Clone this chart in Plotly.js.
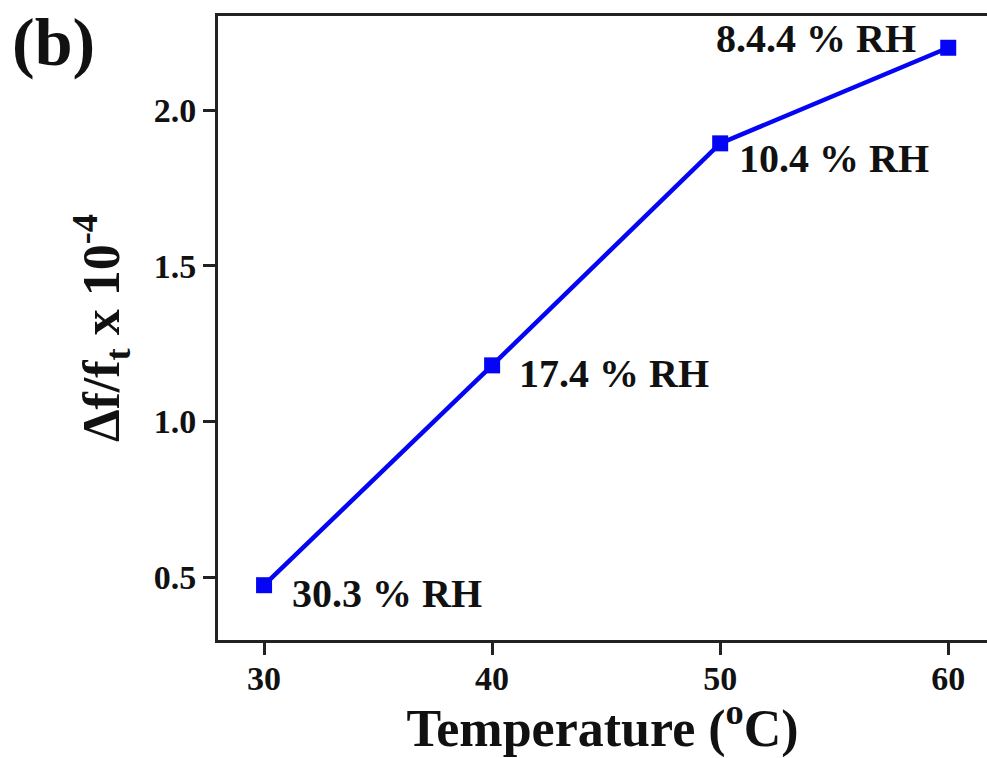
<!DOCTYPE html>
<html>
<head>
<meta charset="utf-8">
<script src="https://cdn.plot.ly/plotly-3.0.1.min.js"></script>
<style>html,body{margin:0;padding:0;background:#fff;}#chart{width:987px;height:758px;}</style>
</head>
<body>
<div id="chart"></div>
<script>
const temperature = [30, 40, 50, 60];
const deltaF = [0.474, 1.18, 1.893, 2.2];
const rhLabels = ["30.3 % RH", "17.4 % RH", "10.4 % RH", "8.4.4 % RH"];
const xTicks = [30, 40, 50, 60];
const yTicks = [0.5, 1.0, 1.5, 2.0];
const yTickText = ["0.5", "1.0", "1.5", "2.0"];

const FONT = "'Liberation Serif', 'Times New Roman', serif";
const labelStyle = [
  {xanchor: "left", xshift: 26, yshift: -8},
  {xanchor: "left", xshift: 25, yshift: -8},
  {xanchor: "left", xshift: 17, yshift: -15},
  {xanchor: "right", xshift: -30, yshift: 9}
];

const annotations = rhLabels.map((t, i) => Object.assign({
  x: temperature[i], y: deltaF[i], xref: "x", yref: "y",
  text: t, showarrow: false, yanchor: "middle",
  font: {family: FONT, size: 40, color: "#111", weight: "bold"}
}, labelStyle[i]));

annotations.push({
  xref: "paper", yref: "paper", x: -0.27, y: 1.022, xanchor: "left", yanchor: "top",
  text: "(b)", showarrow: false,
  font: {family: FONT, size: 68, color: "#111", weight: "bold"}
});

const trace = {
  x: temperature, y: deltaF, type: "scatter", mode: "lines+markers",
  line: {color: "#0505f5", width: 4.5},
  marker: {symbol: "square", size: 16, color: "#0505f5"},
  showlegend: false, hoverinfo: "none"
};

const layout = {
  width: 987, height: 758,
  margin: {l: 218, r: 0, t: 16, b: 118},
  paper_bgcolor: "#fff", plot_bgcolor: "#fff",
  font: {family: FONT, color: "#111", weight: "bold"},
  xaxis: {
    range: [27.98, 61.7], tickvals: xTicks, ticktext: xTicks.map(String),
    showgrid: false, zeroline: false, showline: true, linecolor: "#222", linewidth: 3,
    mirror: true, ticks: "outside", ticklen: 12, tickwidth: 3, tickcolor: "#222",
    ticklabelstandoff: -6,
    tickfont: {family: FONT, size: 34, color: "#111", weight: "bold"},
    title: {text: "Temperature (<sup>o</sup>C)", standoff: 6,
      font: {family: FONT, size: 52, color: "#111", weight: "bold"}}
  },
  yaxis: {
    range: [0.298, 2.302], tickvals: yTicks, ticktext: yTickText,
    showgrid: false, zeroline: false, showline: true, linecolor: "#222", linewidth: 3,
    ticks: "outside", ticklen: 12, tickwidth: 3, tickcolor: "#222",
    tickfont: {family: FONT, size: 34, color: "#111", weight: "bold"},
    title: {text: "Δf/f<sub>t</sub> x 10<sup>-4</sup>", standoff: 18,
      font: {family: FONT, size: 52, color: "#111", weight: "bold"}}
  },
  annotations: annotations
};

Plotly.newPlot("chart", [trace], layout, {staticPlot: true, displayModeBar: false});
</script>
</body>
</html>
